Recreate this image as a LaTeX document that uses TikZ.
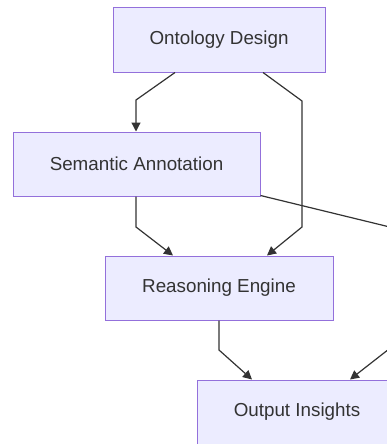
\documentclass[tikz,border=0pt]{standalone}
\usepackage{fontspec}
\setmainfont{Liberation Sans}
\usetikzlibrary{arrows.meta}
\definecolor{boxfill}{HTML}{ECECFF}
\definecolor{boxline}{HTML}{9370DB}
\definecolor{ink}{HTML}{333333}
\tikzset{
  box/.style={draw=boxline, fill=boxfill, line width=1pt, inner sep=0pt,
    font=\fontsize{18.8}{22}\selectfont, text=ink},
  conn/.style={draw=ink, line width=1.2pt, -{Triangle[length=9pt,width=9pt]}}
}
\begin{document}
\begin{tikzpicture}[x=1pt,y=-1pt]
\useasboundingbox (0,0) rectangle (386,444);
\node[box, minimum width=212pt, minimum height=64pt] (ont) at (219,40) {Ontology Design};
\node[box, minimum width=247pt, minimum height=64pt] (sem) at (136.5,164) {Semantic Annotation};
\node[box, minimum width=228pt, minimum height=64pt] (rea) at (219,288) {Reasoning Engine};
\node[box, minimum width=200pt, minimum height=64pt] (out) at (297,412) {Output Insights};
\coordinate (a1) at (136,100);
\coordinate (b1) at (302,101);
\coordinate (b2) at (302,227);
\coordinate (c1) at (136,227);
\coordinate (d1) at (398,229);
\coordinate (d2) at (398,342);
\coordinate (e1) at (219,350);
\draw[conn] (ont.south -| 175,0) -- (a1) -- (sem.north -| a1);
\draw[conn] (ont.south -| 263,0) -- (b1) -- (b2) -- (rea.north -| 267,0);
\draw[conn] (sem.south -| c1) -- (c1) -- (rea.north -| 173,0);
\draw[conn] (sem.south east) ++(0,-1) -- (d1) -- (d2) -- (out.north -| 350,0);
\draw[conn] (rea.south -| e1) -- (e1) -- (out.north -| 252,0);
\end{tikzpicture}
\end{document}
